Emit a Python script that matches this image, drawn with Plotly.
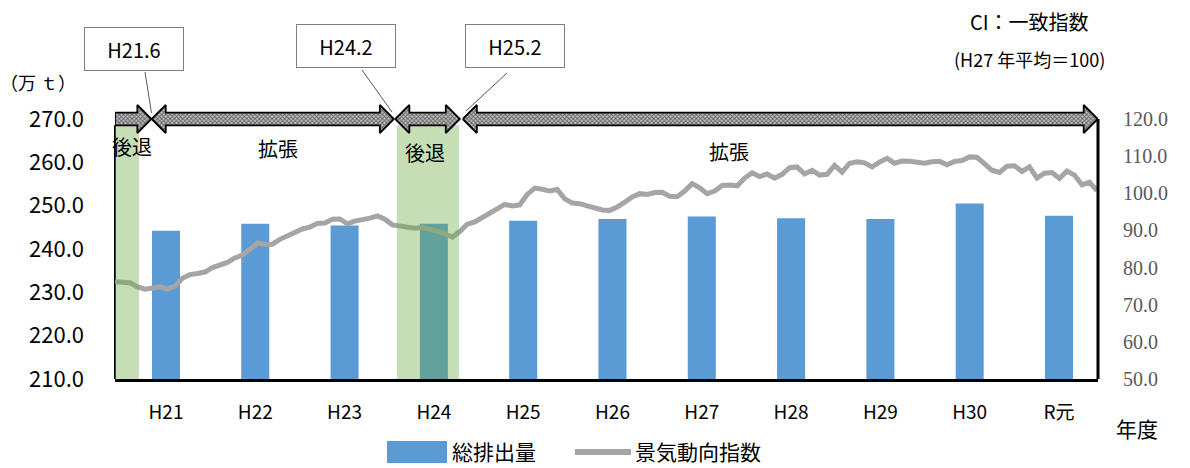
import plotly.graph_objects as go

# Fiscal years and total emissions (10,000 t)
years = ["H21", "H22", "H23", "H24", "H25", "H26", "H27", "H28", "H29", "H30", "R元"]
emissions = [244.2, 245.8, 245.4, 245.8, 246.5, 246.9, 247.5, 247.1, 246.9, 250.5, 247.7]

# Monthly CI coincident index (H27 average = 100)
ci = [76.2, 76.1, 75.9, 74.8, 74.2, 74.5, 74.8, 74.2, 75.0, 77.1,
      78.1, 78.4, 78.8, 80.0, 80.6, 81.4, 82.6, 83.4, 84.9, 86.6,
      86.2, 86.3, 87.6, 88.5, 89.6, 90.4, 90.9, 91.9, 92.0, 93.0,
      93.1, 91.8, 92.5, 92.8, 93.3, 93.9, 93.0, 91.5, 91.3, 90.9,
      90.6, 90.8, 90.4, 89.8, 89.1, 88.2, 89.7, 91.7, 92.3, 93.4,
      94.6, 95.8, 97.0, 96.6, 96.9, 99.7, 101.4, 101.1, 100.6, 101.0,
      98.5, 97.4, 97.2, 96.6, 96.0, 95.5, 95.4, 96.3, 97.6, 99.0,
      99.9, 99.7, 100.2, 100.3, 99.2, 99.1, 100.6, 102.6, 101.5, 99.9,
      100.6, 102.1, 102.2, 102.0, 104.1, 105.5, 104.5, 105.2, 104.1, 105.1,
      106.9, 107.1, 105.2, 106.2, 104.9, 105.1, 107.5, 105.7, 108.1, 108.5,
      108.2, 107.1, 108.4, 109.4, 108.1, 108.7, 108.6, 108.4, 108.1, 108.5,
      108.6, 107.7, 108.6, 108.8, 109.8, 109.7, 107.8, 106.2, 105.6, 107.3,
      107.4, 105.9, 107.1, 104.1, 105.4, 105.6, 104.0, 106.0, 104.9, 102.3,
      103.0, 100.7]
months = list(range(len(ci)))

# Business-cycle phases on the monthly axis: (start, end, arrow kind)
phase_start = [0.0, 4.9, 37.4, 46.4]
phase_end = [4.85, 37.2, 46.0, 131.1]
phase_kind = ["right", "both", "both", "both"]
# Recession shading on the monthly axis
recession_start = [0.0, 37.6]
recession_end = [3.2, 45.9]

left_ticks = [210, 220, 230, 240, 250, 260, 270]
right_ticks = [50, 60, 70, 80, 90, 100, 110, 120]

JP = "Noto Sans CJK JP"
BAR_COLOR = "#5B9BD5"
LINE_COLOR = "#A5A5A5"
SHADE = "rgba(112,173,71,0.40)"

# arrow geometry (month units / right-axis units)
ARROW_Y = 120.0
SHAFT = 1.7
HEAD = 3.77
HEAD_LEN = 1.87


def arrow_polygon(x0, x1, kind):
    c, hs, hh, L = ARROW_Y, SHAFT, HEAD, HEAD_LEN
    if kind == "right":
        pts = [(x0, c + hs), (x1 - L, c + hs), (x1 - L, c + hh), (x1, c),
               (x1 - L, c - hh), (x1 - L, c - hs), (x0, c - hs), (x0, c + hs)]
    else:
        pts = [(x0, c), (x0 + L, c + hh), (x0 + L, c + hs), (x1 - L, c + hs),
               (x1 - L, c + hh), (x1, c), (x1 - L, c - hh), (x1 - L, c - hs),
               (x0 + L, c - hs), (x0 + L, c - hh), (x0, c)]
    return [p[0] for p in pts], [p[1] for p in pts]


fig = go.Figure()

fig.add_trace(go.Bar(
    x=years, y=emissions, name="総排出量", marker_color=BAR_COLOR,
    marker_line_width=0, width=0.314, xaxis="x", yaxis="y", showlegend=False,
))

fig.add_trace(go.Scatter(
    x=months, y=ci, name="景気動向指数", mode="lines",
    line=dict(color=LINE_COLOR, width=5), xaxis="x2", yaxis="y2", showlegend=False,
))

for s, e in zip(recession_start, recession_end):
    fig.add_trace(go.Scatter(
        x=[s, e, e, s, s], y=[50, 50, ARROW_Y - SHAFT, ARROW_Y - SHAFT, 50],
        mode="lines", fill="toself", fillcolor=SHADE, line=dict(width=0),
        xaxis="x2", yaxis="y2", showlegend=False, hoverinfo="skip",
    ))

for s, e, k in zip(phase_start, phase_end, phase_kind):
    ax, ay = arrow_polygon(s, e, k)
    fig.add_trace(go.Scatter(
        x=ax, y=ay, mode="lines", fill="toself",
        fillpattern=dict(shape="x", size=3, solidity=0.6,
                         fgcolor="#111111", bgcolor="#c8c8c8"),
        line=dict(color="black", width=1.8),
        xaxis="x2", yaxis="y2", showlegend=False, hoverinfo="skip",
    ))

# plot area in pixels
L0, W, B0, H = 115, 983, 379, 290


def px(x):
    return (x - L0) / W


def py(y):
    return (B0 - y) / H


annotations = []


def note(text, x, y, size=20, color="black", xanchor="center", font=JP, **kw):
    annotations.append(dict(
        text=text, x=px(x), y=py(y), xref="paper", yref="paper", showarrow=False,
        xanchor=xanchor, yanchor="middle", font=dict(family=font, size=size, color=color), **kw,
    ))


note("（万 ｔ）", 38, 82, size=18)
note("後退", 132, 146)
note("拡張", 278, 148)
note("後退", 425, 152)
note("拡張", 729, 151)
note("CI：一致指数", 1029, 21, size=20)
note("(H27 年平均＝100)", 1029, 59, size=18)
note("年度", 1137, 428, size=21)
note("総排出量", 450, 451, size=21, xanchor="left")
note("景気動向指数", 633, 451, size=21, xanchor="left")

for label, cx, cy in [("H21.6", 134, 49.5), ("H24.2", 345.5, 46.5), ("H25.2", 515, 45.5)]:
    note(label, cx, cy, size=20, bgcolor="white", bordercolor="#7f7f7f",
         borderwidth=1, borderpad=0, width=98, height=42)

shapes = []
# callout leader lines
for (x0, y0), (x1, y1) in [((145, 72), (151.5, 113)), ((362, 70), (392, 112)), ((507, 73), (466, 111))]:
    shapes.append(dict(type="line", xref="paper", yref="paper", x0=px(x0), y0=py(y0),
                       x1=px(x1), y1=py(y1), line=dict(color="#595959", width=1)))
# frame sides
shapes.append(dict(type="line", xref="paper", yref="y2", x0=0, x1=0, y0=50, y1=ARROW_Y - SHAFT,
                   line=dict(color="black", width=2), layer="below"))
shapes.append(dict(type="line", xref="paper", yref="y2", x0=1, x1=1, y0=50, y1=ARROW_Y,
                   line=dict(color="black", width=3)))
# custom legend keys
shapes.append(dict(type="rect", xref="paper", yref="paper", x0=px(387), x1=px(447),
                   y0=py(441), y1=py(463), fillcolor=BAR_COLOR, line=dict(width=0)))
shapes.append(dict(type="line", xref="paper", yref="paper", x0=px(575), x1=px(631),
                   y0=py(452), y1=py(452), line=dict(color=LINE_COLOR, width=6)))

fig.update_layout(
    width=1190, height=468, autosize=False,
    margin=dict(l=115, r=92, t=89, b=89),
    paper_bgcolor="white", plot_bgcolor="white",
    showlegend=False,
    xaxis=dict(type="category", range=[-0.571, 10.437], showgrid=False, zeroline=False,
               showline=True, linecolor="black", linewidth=3, ticks="",
               tickfont=dict(family=JP, size=19, color="black"), ticklabelstandoff=14,
               fixedrange=True),
    yaxis=dict(range=[210, 276.92], tickvals=left_ticks, tickformat=".1f", showgrid=False,
               zeroline=False, showline=False, ticks="",
               tickfont=dict(family=JP, size=22, color="black"), ticklabelstandoff=30,
               fixedrange=True),
    xaxis2=dict(overlaying="x", range=[0, 131.14], visible=False, fixedrange=True),
    yaxis2=dict(overlaying="y", side="right", range=[50, 128.08], tickvals=right_ticks,
                tickformat=".1f", showgrid=False, zeroline=False, showline=False, ticks="",
                tickfont=dict(family="Liberation Serif", size=20, color="#595959"),
                ticklabelstandoff=24, fixedrange=True),
    annotations=annotations,
    shapes=shapes,
)

fig.write_html("out.html")
